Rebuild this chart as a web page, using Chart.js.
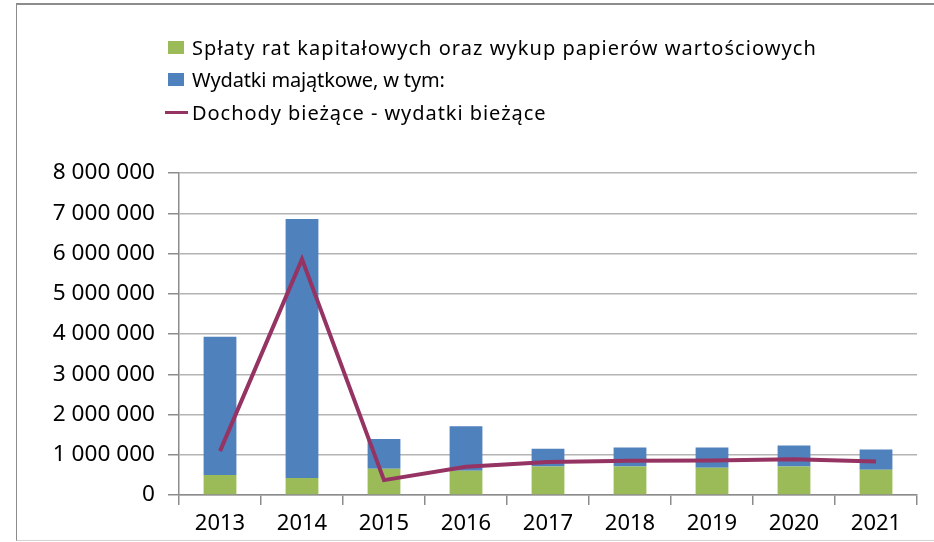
<!DOCTYPE html>
<html>
<head>
<meta charset="utf-8">
<script src="https://cdn.jsdelivr.net/npm/chart.js@4/dist/chart.umd.min.js"></script>
<style>
  html, body { margin: 0; padding: 0; background: #fff; }
  #wrap { position: relative; width: 934px; height: 542px; overflow: hidden; }
  #frame { position: absolute; left: 16px; top: 3px; width: 1000px; height: 535px;
           border-top: 2px solid #8c8c8c; border-left: 1.5px solid #8c8c8c; border-bottom: 1.5px solid #d4d4d4; }
  canvas { position: absolute; left: 0; top: 0; }
  #legend { position: absolute; left: 165px; top: 31px; font-family: "Noto Sans", sans-serif; font-size: 20px; color: #000; }
  .item { height: 32.5px; display: flex; align-items: center; white-space: nowrap; }
  .box { width: 16px; height: 13px; margin-left: 3px; margin-right: 8px; }
  .ln { width: 23px; height: 3.5px; margin-right: 4px; background: #953363; }
</style>
</head>
<body>
<div id="wrap">
  <div id="frame"></div>
  <canvas id="c" width="934" height="542"></canvas>
  <div id="legend"></div>
</div>
<script>
const categories = ['2013', '2014', '2015', '2016', '2017', '2018', '2019', '2020', '2021'];
const seriesNames = [
  'Spłaty rat kapitałowych oraz wykup papierów wartościowych',
  'Wydatki majątkowe, w tym:',
  'Dochody bieżące - wydatki bieżące'
];
const splaty = [500000, 420000, 650000, 600000, 710000, 710000, 680000, 710000, 630000];
const wydatkiMajatkowe = [3430000, 6440000, 740000, 1110000, 440000, 470000, 500000, 520000, 500000];
const dochodyMinusWydatki = [1090000, 5860000, 370000, 700000, 820000, 850000, 860000, 890000, 830000];
const yTickValues = [0, 1000000, 2000000, 3000000, 4000000, 5000000, 6000000, 7000000, 8000000];
const yTickLabels = ['0', '1 000 000', '2 000 000', '3 000 000', '4 000 000', '5 000 000', '6 000 000', '7 000 000', '8 000 000'];

const colors = { green: '#9BBB59', blue: '#4F81BD', line: '#953363' };

// HTML legend (one entry per row, as in the original)
const lg = document.getElementById('legend');
const legendSpacing = ['1.05px', '-0.15px', '0.95px'];
[[seriesNames[0], 'box', colors.green], [seriesNames[1], 'box', colors.blue], [seriesNames[2], 'ln', colors.line]].forEach(([t, k, c], i) => {
  const d = document.createElement('div'); d.className = 'item';
  const m = document.createElement('span'); m.className = k; m.style.background = c;
  const s = document.createElement('span'); s.textContent = t; s.style.letterSpacing = legendSpacing[i];
  d.appendChild(m); d.appendChild(s); lg.appendChild(d);
});

const xFont = { family: '"Noto Sans", sans-serif', size: 22 };
const yFont = { family: '"Noto Sans", sans-serif', size: 22.6 };

new Chart(document.getElementById('c'), {
  data: {
    labels: categories,
    datasets: [
      { type: 'line', label: seriesNames[2], data: dochodyMinusWydatki, borderColor: colors.line, backgroundColor: colors.line,
        borderWidth: 4, pointRadius: 0, tension: 0, stack: 'line', order: 0 },
      { type: 'bar', label: seriesNames[0], data: splaty, backgroundColor: colors.green, stack: 'bars', order: 1,
        barPercentage: 0.4, categoryPercentage: 1 },
      { type: 'bar', label: seriesNames[1], data: wydatkiMajatkowe, backgroundColor: colors.blue, stack: 'bars', order: 1,
        barPercentage: 0.4, categoryPercentage: 1 }
    ]
  },
  options: {
    responsive: false,
    animation: false,
    devicePixelRatio: 1,
    layout: { padding: { top: 173, right: 17, left: 0, bottom: 0 } },
    plugins: { legend: { display: false }, tooltip: { enabled: false } },
    scales: {
      x: {
        stacked: true,
        offset: true,
        grid: { offset: true, drawOnChartArea: false, drawTicks: true, tickLength: 10, color: '#8c8c8c', lineWidth: 1.5 },
        border: { color: '#8c8c8c', width: 1.5 },
        ticks: { color: '#000', font: xFont, padding: 6, maxRotation: 0 },
        afterFit: s => { s.height = 47; }
      },
      y: {
        stacked: true,
        min: 0, max: 8000000,
        afterBuildTicks: s => { s.ticks = yTickValues.map(v => ({ value: v })); },
        grid: { color: '#b4b4b4', lineWidth: 1.5, tickLength: 11, tickColor: '#8c8c8c' },
        border: { color: '#8c8c8c', width: 1.5 },
        ticks: { color: '#000', font: yFont, padding: 13, callback: (v) => yTickLabels[yTickValues.indexOf(v)] },
        afterFit: s => { s.width = 179; }
      }
    }
  }
});
</script>
</body>
</html>
